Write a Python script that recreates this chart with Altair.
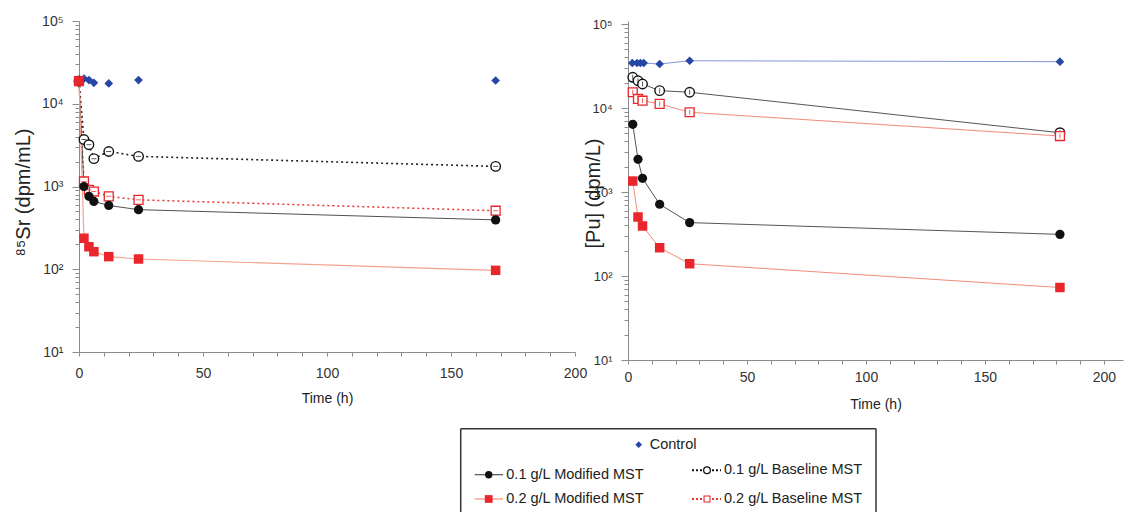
import altair as alt
import pandas as pd

# ---------------- data ----------------
# Left panel: 85Sr (dpm/mL) vs time (h)
L_TIME = [0, 2, 4, 6, 12, 24, 168]
L_CONTROL = [18800, 20200, 19300, 17900, 17600, 19300, 19100]
L_MOD01 = [18800, 1000, 760, 660, 590, 525, 395]
L_MOD02 = [18800, 237, 187, 163, 142, 133, 97]
L_BASE01 = [18800, 3700, 3200, 2170, 2650, 2310, 1750]
L_BASE02 = [18800, 1150, 910, 870, 760, 690, 510]

# Right panel: [Pu] (dpm/L) vs time (h)
R_TIME_CONTROL = [1.8, 3.8, 5.2, 6.6, 13.3, 25.9, 181.5]
R_CONTROL = [34300, 34300, 34300, 34300, 33400, 36500, 35600]
R_TIME = [2.0, 4.2, 6.1, 13.3, 25.9, 181.5]
R_MOD01 = [6400, 2450, 1455, 715, 432, 313]
R_MOD02 = [1350, 504, 394, 217, 140, 73]
R_BASE01 = [23200, 21100, 19300, 16100, 15400, 5080]
R_BASE02 = [15400, 12800, 12200, 11200, 8900, 4640]

# Tick labels
Y_MAJORS = [10, 100, 1000, 10000, 100000]
Y_LABELS = ["10¹", "10²", "10³", "10⁴", "10⁵"]
X_LABELED = [0, 50, 100, 150, 200]

LEG_LABELS = ["Control", "0.1 g/L Modified MST", "0.1 g/L Baseline MST",
              "0.2 g/L Modified MST", "0.2 g/L Baseline MST"]

# ---------------- styles ----------------
FONT = "Liberation Sans"
BLUE = "#2747a6"
RED = "#e8262b"
BLACK = "#111111"
AXIS_GRAY = "#8c8c8c"

Y_TICKS = [m * 10 ** e for e in range(1, 5) for m in range(1, 10)] + [100000]
X_TICKS = list(range(0, 201, 10))
Y_LABEL_EXPR = " : ".join(
    f"datum.value == {v} ? '{l}'" for v, l in zip(Y_MAJORS, Y_LABELS)) + " : ''"
MAJOR_TEST = "indexof([" + ",".join(str(v) for v in Y_MAJORS) + "], datum.value) >= 0"
X_LABEL_EXPR = ("indexof([" + ",".join(str(v) for v in X_LABELED) +
                "], datum.value) >= 0 ? datum.label : ''")


def y_axis(title, label_size, title_size, title_x, title_y):
    return alt.Axis(
        values=Y_TICKS, labelExpr=Y_LABEL_EXPR, labelOverlap=False, grid=False,
        title=title, domainColor=AXIS_GRAY, tickColor=AXIS_GRAY,
        tickSize={"condition": {"test": MAJOR_TEST, "value": 7}, "value": 4},
        labelPadding=9, labelFontSize=label_size, labelColor="#333333",
        titleFontSize=title_size, titleFontWeight="normal", titleColor="#222222",
        titleX=title_x, titleY=title_y, titleBaseline="middle",
    )


def x_axis(label_pad, title_pad):
    return alt.Axis(
        values=X_TICKS, labelExpr=X_LABEL_EXPR, labelOverlap=False, labelFlush=False,
        grid=False, title="Time (h)", domainColor=AXIS_GRAY, tickColor=AXIS_GRAY,
        tickSize=4, labelPadding=label_pad, labelFontSize=14, labelColor="#333333",
        titleFontSize=14, titleFontWeight="normal", titleColor="#222222",
        titlePadding=title_pad,
    )


def make_panel(series, x_domain, width, y_domain, height, xaxis, yaxis):
    xs = alt.Scale(domain=x_domain, nice=False, zero=False)
    ys = alt.Scale(type="log", domain=y_domain, nice=False)
    lines, points = [], []
    for time, vals, line_style, point_style, tick_style in series:
        df = pd.DataFrame({"t": time, "v": vals})
        base = alt.Chart(df).encode(
            x=alt.X("t:Q", scale=xs, axis=xaxis),
            y=alt.Y("v:Q", scale=ys, axis=yaxis),
        )
        if line_style is not None:
            lines.append(base.mark_line(**line_style))
        points.append(base.mark_point(**point_style))
        if tick_style is not None:
            points.append(base.mark_tick(**tick_style))
    return alt.layer(*(lines + points)).properties(width=width, height=height)


P_DIAMOND = dict(shape="diamond", filled=True, color=BLUE, size=75, opacity=1)
P_FCIRCLE = dict(shape="circle", filled=True, color=BLACK, size=85, opacity=1)
P_FSQUARE = dict(shape="square", filled=True, color=RED, size=90, opacity=1)
P_OCIRCLE = dict(shape="circle", filled=True, fill="white", stroke=BLACK,
                 strokeWidth=1.4, size=90, opacity=1)
P_OSQUARE = dict(shape="square", filled=True, fill="white", stroke=RED,
                 strokeWidth=1.3, size=80, opacity=1)

# ---------------- left panel ----------------
left_series = [
    (L_TIME, L_CONTROL, None, P_DIAMOND, None),
    (L_TIME, L_BASE01, dict(color="#222222", strokeWidth=1.6, strokeDash=[2, 3]),
     P_OCIRCLE, dict(orient="horizontal", size=5, thickness=1, color=BLACK)),
    (L_TIME, L_BASE02, dict(color="#e8352e", strokeWidth=1.5, strokeDash=[2, 3]),
     P_OSQUARE, dict(orient="horizontal", size=5, thickness=1, color=RED)),
    (L_TIME, L_MOD01, dict(color="#505050", strokeWidth=1), P_FCIRCLE, None),
    (L_TIME, L_MOD02, dict(color="#f4a38f", strokeWidth=1.2), P_FSQUARE, None),
]
left = make_panel(
    left_series, [0, 200], 496, [10, 100000], 331,
    x_axis(10, 11),
    y_axis("⁸⁵Sr (dpm/mL)", 14, 20, -56, 171),
)

# ---------------- right panel ----------------
right_series = [
    (R_TIME_CONTROL, R_CONTROL, dict(color="#8497d8", strokeWidth=1), P_DIAMOND, None),
    (R_TIME, R_BASE01, dict(color="#555555", strokeWidth=1), P_OCIRCLE,
     dict(orient="vertical", size=5, thickness=1, color=BLACK)),
    (R_TIME, R_BASE02, dict(color="#f28c7a", strokeWidth=1), P_OSQUARE,
     dict(orient="vertical", size=5, thickness=1, color=RED)),
    (R_TIME, R_MOD01, dict(color="#555555", strokeWidth=1), P_FCIRCLE, None),
    (R_TIME, R_MOD02, dict(color="#f28c7a", strokeWidth=1), P_FSQUARE, None),
]
right = make_panel(
    right_series, [0, 208], 495, [10, 10 ** (5 + 3 / 84)], 339,
    x_axis(6, 13),
    y_axis("[Pu] (dpm/L)", 13, 20, -35, 172),
)

# ---------------- legend panel ----------------
LW, LH = 810, 84
lx = alt.Scale(domain=[0, LW], nice=False, zero=False)
ly = alt.Scale(domain=[0, LH], nice=False, zero=False, reverse=True)

# layout of the legend (pixel positions inside the legend panel)
LEG_SYM_X = [559.7, 409.7, 628.0, 409.7, 628.0]
LEG_Y = [16.7, 46.7, 42.3, 71.0, 71.0]
LEG_LINE_X = [None, (395.7, 424.0), (613.0, 642.0), (395.7, 424.0), (613.0, 642.0)]
LEG_TEXT_X = [570.7, 427.3, 645.0, 427.3, 645.0]
LEG_LINE_STYLE = [
    None,
    dict(color="#505050", strokeWidth=1.2),
    dict(color="#111111", strokeWidth=2, strokeDash=[2, 2]),
    dict(color="#f4a38f", strokeWidth=1.5),
    dict(color="#e8352e", strokeWidth=2, strokeDash=[2, 2]),
]
LEG_POINT_STYLE = [
    dict(shape="diamond", filled=True, color=BLUE, size=45, opacity=1),
    dict(shape="circle", filled=True, color=BLACK, size=55, opacity=1),
    dict(shape="circle", filled=True, fill="white", stroke=BLACK, strokeWidth=1.3, size=45, opacity=1),
    dict(shape="square", filled=True, color=RED, size=60, opacity=1),
    dict(shape="square", filled=True, fill="white", stroke=RED, strokeWidth=1.1, size=35, opacity=1),
]


def lx_enc(f):
    return alt.X(f, type="quantitative", scale=lx, axis=None)


def ly_enc(f):
    return alt.Y(f, type="quantitative", scale=ly, axis=None)


box = pd.DataFrame({
    "x": [381.7, 797.0, 381.7, 0.0],
    "x2": [381.7, 797.0, 797.0, float(LW)],
    "y": [0.7, 0.7, 0.7, float(LH)],
    "y2": [float(LH), float(LH), 0.7, float(LH)],
    "o": [1.0, 1.0, 1.0, 0.0],
})
leg_layers = [
    alt.Chart(box).mark_rule(color="#333333", strokeWidth=1.5).encode(
        x=lx_enc("x"), x2="x2", y=ly_enc("y"), y2="y2",
        strokeOpacity=alt.StrokeOpacity("o:Q", scale=None),
    )
]
for i, label in enumerate(LEG_LABELS):
    if LEG_LINE_X[i] is not None:
        ldf = pd.DataFrame({"x": [LEG_LINE_X[i][0]], "x2": [LEG_LINE_X[i][1]], "y": [LEG_Y[i]]})
        leg_layers.append(alt.Chart(ldf).mark_rule(**LEG_LINE_STYLE[i]).encode(
            x=lx_enc("x"), x2="x2", y=ly_enc("y")))
    pdf = pd.DataFrame({"x": [LEG_SYM_X[i]], "y": [LEG_Y[i]]})
    leg_layers.append(alt.Chart(pdf).mark_point(**LEG_POINT_STYLE[i]).encode(
        x=lx_enc("x"), y=ly_enc("y")))
    tdf = pd.DataFrame({"x": [LEG_TEXT_X[i]], "y": [LEG_Y[i]], "label": [label]})
    leg_layers.append(alt.Chart(tdf).mark_text(
        align="left", baseline="middle", fontSize=14.5, color="#222222", font=FONT
    ).encode(x=lx_enc("x"), y=ly_enc("y"), text="label:N"))

legend = alt.layer(*leg_layers).properties(width=LW, height=LH)

# ---------------- compose ----------------
top = alt.hconcat(left, right, spacing=53, bounds="flush").resolve_scale(
    x="independent", y="independent")
chart = alt.vconcat(top, legend, spacing=15).resolve_scale(
    x="independent", y="independent"
).properties(
    padding={"left": 4, "top": 5, "right": 0, "bottom": 0}
).configure(font=FONT).configure_view(stroke="transparent")

chart.save("out.html", embed_options={"renderer": "svg", "actions": False})
